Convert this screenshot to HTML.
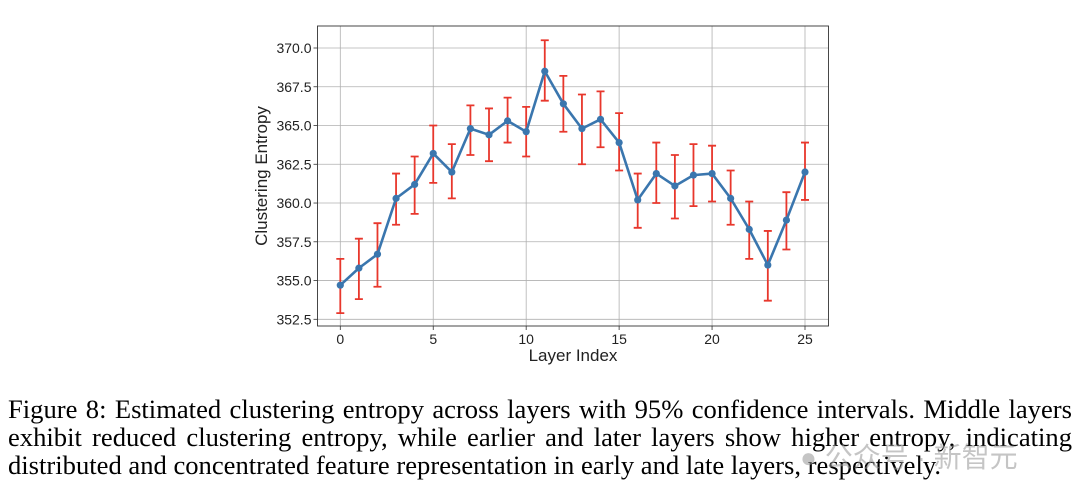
<!DOCTYPE html>
<html><head><meta charset="utf-8"><style>
body{margin:0;background:#fff;width:1080px;height:496px;overflow:hidden;position:relative;font-family:"Liberation Sans",sans-serif}
.cap{position:absolute;left:8px;width:1064px;font-family:"Liberation Serif",serif;font-size:26.6px;line-height:28px;color:#000;white-space:nowrap}
.j{text-align:justify;text-align-last:justify;white-space:normal}
</style></head><body>
<svg id="chart" width="1080" height="380" style="position:absolute;left:0;top:0"></svg>
<div class="cap j" style="top:395px">Figure 8: Estimated clustering entropy across layers with 95% confidence intervals. Middle layers</div>
<div class="cap j" style="top:423px">exhibit reduced clustering entropy, while earlier and later layers show higher entropy, indicating</div>
<div class="cap" style="top:451px">distributed and concentrated feature representation in early and late layers, respectively.</div>
<div style="position:absolute;left:800px;top:436px;font-family:'Liberation Sans','Noto Sans CJK SC',sans-serif;font-size:28px;color:rgba(150,150,150,0.55)">● 公众号 · 新智元</div>
<script>
const layers=[0,1,2,3,4,5,6,7,8,9,10,11,12,13,14,15,16,17,18,19,20,21,22,23,24,25];
const means=[354.7,355.8,356.7,360.3,361.2,363.2,362.0,364.8,364.4,365.3,364.6,368.5,366.4,364.8,365.4,363.9,360.2,361.9,361.1,361.8,361.9,360.3,358.3,356.0,358.9,362.0];
const lows=[352.9,353.8,354.6,358.6,359.3,361.3,360.3,363.1,362.7,363.9,363.0,366.6,364.6,362.5,363.6,362.1,358.4,360.0,359.0,359.8,360.1,358.6,356.4,353.7,357.0,360.2];
const highs=[356.4,357.7,358.7,361.9,363.0,365.0,363.8,366.3,366.1,366.8,366.2,370.5,368.2,367.0,367.2,365.8,361.9,363.9,363.1,363.8,363.7,362.1,360.1,358.2,360.7,363.9];
const xTicks=[0,5,10,15,20,25];
const yTicks=[352.5,355.0,357.5,360.0,362.5,365.0,367.5,370.0];
const svg=document.getElementById('chart');
const NS='http://www.w3.org/2000/svg';
const L=317.5,R=828.5,T=26,B=326;
const X=v=>340.3+(v-0)*(805-340.3)/25;
const Y=v=>48+(370-v)*(319.3-48)/17.5;
function mk(t,a){const e=document.createElementNS(NS,t);for(const k in a)e.setAttribute(k,a[k]);svg.appendChild(e);return e;}
xTicks.forEach(t=>{
 const g=mk('line',{x1:X(t),x2:X(t),y1:T,y2:B,stroke:'#b0b0b0','stroke-width':0.8});
 
 
 mk('line',{x1:X(t),x2:X(t),y1:B,y2:B+4,stroke:'#333','stroke-width':0.8});
 const l=mk('text',{x:X(t),y:B+18,'text-anchor':'middle','font-size':14,fill:'#222'});l.textContent=t;
 
 
});
yTicks.forEach(t=>{
 const g=mk('line',{x1:L,x2:R,y1:Y(t),y2:Y(t),stroke:'#b0b0b0','stroke-width':0.8});
 
 
 mk('line',{x1:L-4,x2:L,y1:Y(t),y2:Y(t),stroke:'#333','stroke-width':0.8});
 const l=mk('text',{x:L-6,y:Y(t)+5,'text-anchor':'end','font-size':14,fill:'#222'});l.textContent=t.toFixed(1);
 
 
});
const fr=mk('rect',{x:L,y:T,width:R-L,height:B-T,fill:'none',stroke:'#333','stroke-width':0.9});


layers.forEach((k,i)=>{
 const e=mk('path',{d:`M${X(k)},${Y(lows[i])}V${Y(highs[i])}M${X(k)-4},${Y(lows[i])}h8M${X(k)-4},${Y(highs[i])}h8`,stroke:'#e8372c','stroke-width':1.8,fill:'none'});
 
 
});
const ln=mk('polyline',{points:layers.map((k,i)=>X(k)+','+Y(means[i])).join(' '),fill:'none',stroke:'#3a76ae','stroke-width':2.6,'stroke-linejoin':'round'});


layers.forEach((k,i)=>{
 const c=mk('circle',{cx:X(k),cy:Y(means[i]),r:3.6,fill:'#3a76ae'});
 
 
});
const xt=mk('text',{x:(L+R)/2,y:361,'text-anchor':'middle','font-size':17,fill:'#222'});xt.textContent='Layer Index';


const yt=mk('text',{x:0,y:0,'text-anchor':'middle','font-size':17,fill:'#222',transform:`translate(267,${(T+B)/2}) rotate(-90)`});yt.textContent='Clustering Entropy';


</script>
</body></html>
